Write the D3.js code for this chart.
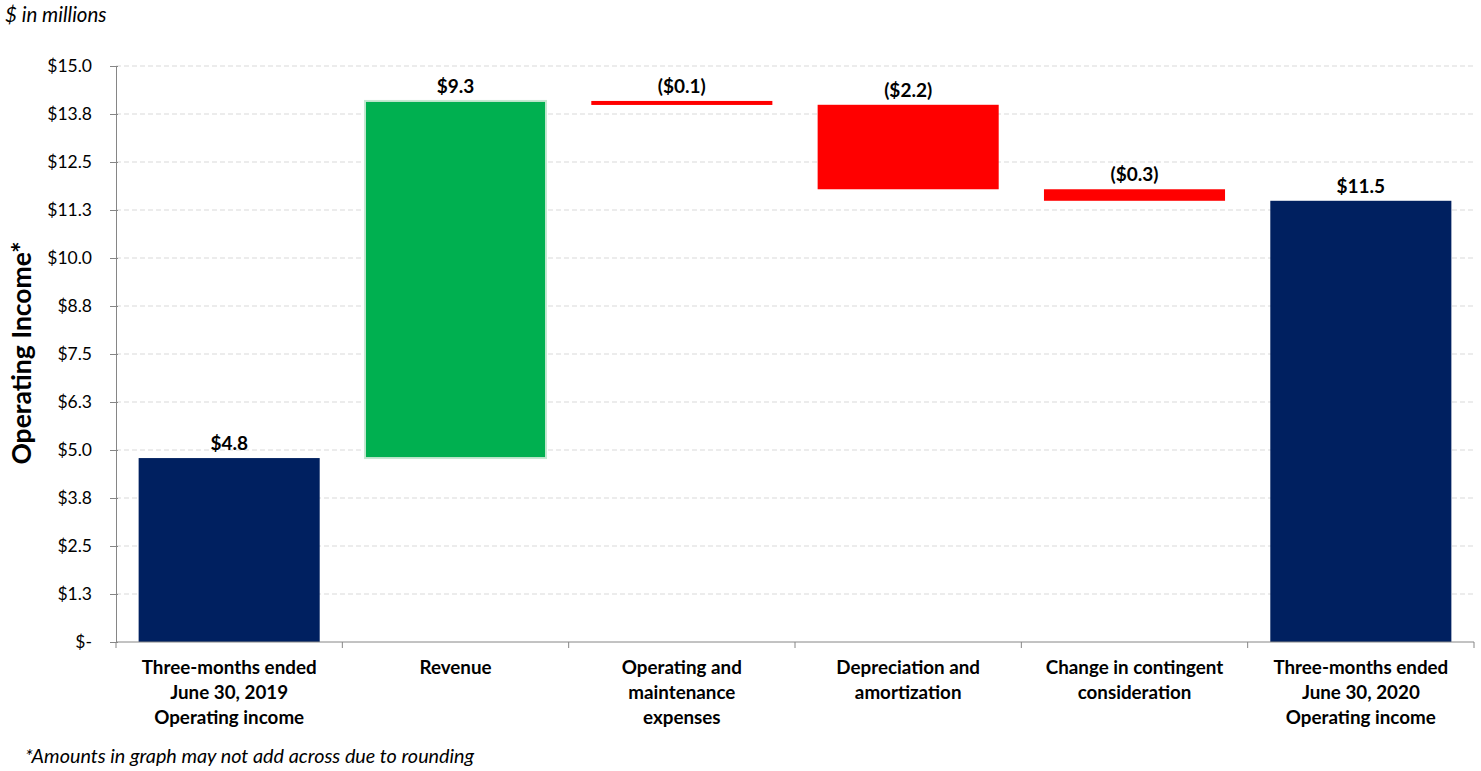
<!DOCTYPE html>
<html><head><meta charset="utf-8">
<script src="https://cdn.jsdelivr.net/npm/d3@7"></script>
<style>
body{margin:0;background:#fff;}
svg text{font-family:Lato,"Open Sans",sans-serif;fill:#000;}
</style></head>
<body><svg id="c" width="1481" height="771"></svg>
<script>
// Data
const categories = [
  ["Three-months ended","June 30, 2019","Operating income"],
  ["Revenue"],
  ["Operating and","maintenance","expenses"],
  ["Depreciation and","amortization"],
  ["Change in contingent","consideration"],
  ["Three-months ended","June 30, 2020","Operating income"]
];
const barTypes = ["total","increase","decrease","decrease","decrease","total"];
const values = [4.79, 9.3, -0.1, -2.2, -0.3, 11.49];
const valueLabels = ["$4.8","$9.3","($0.1)","($2.2)","($0.3)","$11.5"];
const tickValues = [0,1.25,2.5,3.75,5,6.25,7.5,8.75,10,11.25,12.5,13.75,15];
const tickLabels = ["$-","$1.3","$2.5","$3.8","$5.0","$6.3","$7.5","$8.8","$10.0","$11.3","$12.5","$13.8","$15.0"];
const colors = {total:"#002060", increase:"#00B050", decrease:"#FF0000"};

const svg = d3.select("#c");
const m = {left:116, right:1474, top:66, bottom:642};
const x = d3.scaleBand().domain(d3.range(categories.length)).range([m.left,m.right]).paddingInner(0.2).paddingOuter(0.1);
const xb = d3.scaleBand().domain(d3.range(categories.length)).range([m.left,m.right]);
const y = d3.scaleLinear().domain([0,15]).range([m.bottom,m.top]);

let run = 0;
const bars = values.map((v,i)=>{
  let lo, hi;
  if (barTypes[i]==="total"){ lo=0; hi=v; run=v; }
  else { const s=run; run=run+v; lo=Math.min(s,run); hi=Math.max(s,run); }
  return {i, lo, hi, type:barTypes[i], label:valueLabels[i]};
});

// gridlines
svg.append("g").selectAll("line").data(tickValues.filter(d=>d>0)).join("line")
  .attr("x1",m.left).attr("x2",m.right).attr("y1",d=>y(d)).attr("y2",d=>y(d))
  .attr("stroke","#d9d9d9").attr("stroke-dasharray","5,3").attr("stroke-width",1);

// y axis
const yAxis = d3.axisLeft(y).tickValues(tickValues).tickFormat((d,i)=>tickLabels[i]).tickSizeInner(6).tickSizeOuter(0).tickPadding(18);
const gy = svg.append("g").attr("transform",`translate(${m.left},0)`).call(yAxis);
gy.select(".domain").attr("stroke","#868686");
gy.selectAll(".tick line").attr("stroke","#868686").attr("x2",-6).attr("x1",2);
gy.selectAll(".tick text").attr("font-size",17.5).attr("font-family","Lato, 'Open Sans', sans-serif").attr("fill","#000");

// bars
svg.append("g").selectAll("rect").data(bars).join("rect")
  .attr("x",d=>x(d.i)).attr("width",x.bandwidth())
  .attr("y",d=>y(d.hi)).attr("height",d=>Math.max(4,y(d.lo)-y(d.hi)))
  .attr("fill",d=>colors[d.type])
  .attr("stroke",d=>d.type==="increase"?"#c5e8d2":"none").attr("stroke-width",2);

// value labels
svg.append("g").selectAll("text").data(bars).join("text")
  .attr("x",d=>x(d.i)+x.bandwidth()/2).attr("y",d=>y(d.hi)-8)
  .attr("text-anchor","middle").attr("font-size",19).attr("font-weight","bold")
  .text(d=>d.label);

// x axis
const gx = svg.append("g").attr("transform",`translate(0,${m.bottom})`);
gx.append("line").attr("x1",m.left).attr("x2",m.right).attr("stroke","#868686");
gx.selectAll("line.t").data(d3.range(categories.length+1)).join("line").attr("class","t")
  .attr("x1",i=>i<categories.length?xb(i):m.right).attr("x2",i=>i<categories.length?xb(i):m.right)
  .attr("y1",0).attr("y2",6).attr("stroke","#868686");
categories.forEach((lines,i)=>{
  const t = gx.append("text").attr("text-anchor","middle").attr("font-size",18.8).attr("font-weight","bold");
  lines.forEach((l,j)=>t.append("tspan").attr("x",xb(i)+xb.bandwidth()/2).attr("y",32+j*25).text(l));
});

// titles
svg.append("text").attr("transform","translate(31,353) rotate(-90)").attr("text-anchor","middle")
  .attr("font-size",26.5).attr("font-weight","bold").text("Operating Income*");
svg.append("text").attr("x",5).attr("y",22).attr("font-size",20.5).attr("font-style","italic").text("$ in millions");
svg.append("text").attr("x",25).attr("y",763).attr("font-size",19.8).attr("font-style","italic").text("*Amounts in graph may not add across due to rounding");
</script></body></html>
